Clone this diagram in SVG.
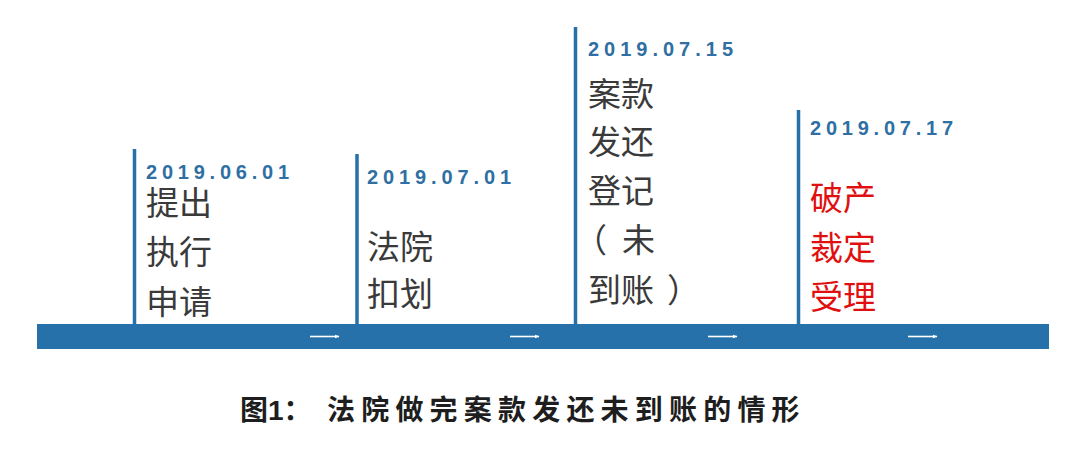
<svg xmlns="http://www.w3.org/2000/svg" width="1080" height="458" viewBox="0 0 1080 458">
  <defs>
    <style>
      .bar { fill: #2671a9; }
      .vline { stroke: #2671a9; stroke-width: 3.5; fill: none; }
      .date { font-family: "Liberation Sans", Arial, sans-serif; font-weight: bold; font-size: 20px; fill: #2f6fa3; }
      .txt { font-family: "Noto Sans CJK SC", "Noto Sans", sans-serif; font-size: 33px; fill: #3a3a3a; }
      .red { fill: #e01010; }
      .arrow { stroke: #ffffff; stroke-width: 1.6; fill: none; marker-end: url(#ah); }
      .cap { font-family: "Noto Sans CJK SC", sans-serif; font-weight: bold; font-size: 28px; fill: #1e1e1e; }
      .num { font-family: "Liberation Sans", Arial, sans-serif; font-weight: bold; }
    </style>
    <marker id="ah" viewBox="0 0 10 10" refX="9" refY="5" markerWidth="5" markerHeight="5" orient="auto" markerUnits="userSpaceOnUse">
      <path d="M0,1 L10,5 L0,9 Z" fill="#ffffff"/>
    </marker>
  </defs>
  <rect width="1080" height="458" fill="#ffffff"/>

  <g id="timeline">
    <rect class="bar" x="37" y="324" width="1012" height="25"/>
  </g>

  <g id="node1">
    <line class="vline" x1="134.5" y1="149" x2="134.5" y2="324"/>
    <text class="date" x="146" y="179" textLength="143" lengthAdjust="spacing">2019.06.01</text>
    <text class="txt" x="146" y="215">提出</text>
    <text class="txt" x="146" y="264">执行</text>
    <text class="txt" x="146" y="314">申请</text>
  </g>

  <g id="node2">
    <line class="vline" x1="357" y1="154" x2="357" y2="324"/>
    <text class="date" x="367" y="184" textLength="144" lengthAdjust="spacing">2019.07.01</text>
    <text class="txt" x="367" y="259">法院</text>
    <text class="txt" x="367" y="306">扣划</text>
  </g>

  <g id="node3">
    <line class="vline" x1="575.5" y1="27" x2="575.5" y2="324"/>
    <text class="date" x="588" y="56" textLength="145" lengthAdjust="spacing">2019.07.15</text>
    <text class="txt" x="588" y="106">案款</text>
    <text class="txt" x="588" y="154">发还</text>
    <text class="txt" x="588" y="203">登记</text>
    <text class="txt" x="574" y="252">（<tspan x="622">未</tspan></text>
    <text class="txt" x="588" y="302">到账<tspan x="667">）</tspan></text>
  </g>

  <g id="node4">
    <line class="vline" x1="798.5" y1="110" x2="798.5" y2="324"/>
    <text class="date" x="810" y="135" textLength="143" lengthAdjust="spacing">2019.07.17</text>
    <text class="txt red" x="810" y="210">破产</text>
    <text class="txt red" x="810" y="260">裁定</text>
    <text class="txt red" x="810" y="309">受理</text>
  </g>

  <g id="connectors">
    <path class="arrow" d="M310,336.5 H339"/>
    <path class="arrow" d="M510,336.5 H539"/>
    <path class="arrow" d="M708,336.5 H737"/>
    <path class="arrow" d="M908,336.5 H937"/>
  </g>

  <g id="caption">
    <text class="cap" x="240" y="420">图<tspan class="num">1</tspan>：<tspan x="327" letter-spacing="6.2">法院做完案款发还未到账的情形</tspan></text>
  </g>
</svg>
